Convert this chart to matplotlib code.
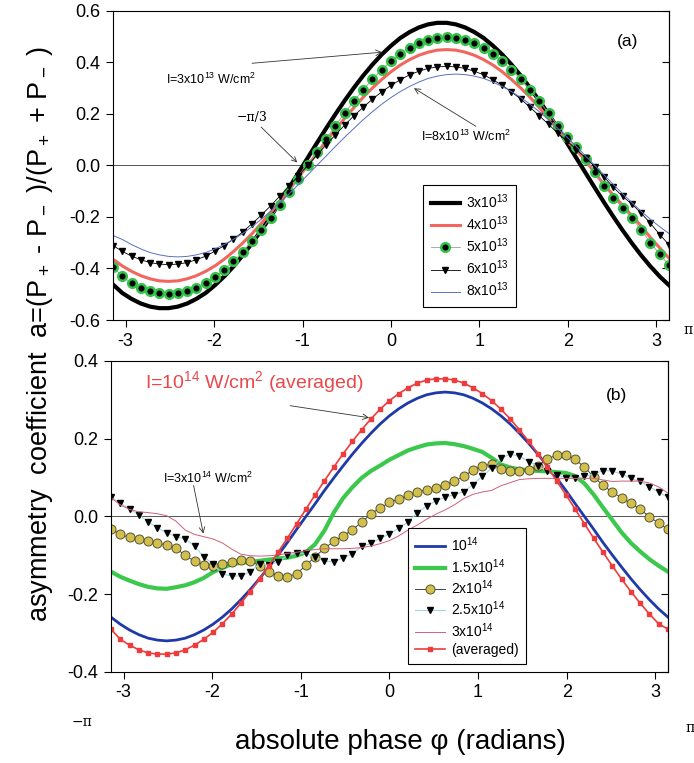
import numpy as np
import matplotlib
matplotlib.use("Agg")
import matplotlib.pyplot as plt

plt.rcParams["font.family"] = ["Liberation Sans", "DejaVu Sans"]
plt.rcParams["mathtext.fontset"] = "custom"
plt.rcParams["mathtext.rm"] = "Liberation Sans"
plt.rcParams["mathtext.it"] = "Liberation Sans:italic"
plt.rcParams["mathtext.bf"] = "Liberation Sans:bold"
plt.rcParams["axes.unicode_minus"] = False

# absolute phase grid (degrees, 6 deg steps from -180 to 180)
phase_deg = np.arange(-180, 181, 6)
phase = np.deg2rad(phase_deg)

# ---- panel (a): 3x10^13 ... 8x10^13 W/cm^2 ----
a_3e13 = [-0.462, -0.495, -0.518, -0.536, -0.548, -0.554, -0.554, -0.548, -0.536, -0.518,
          -0.495, -0.465, -0.431, -0.392, -0.349, -0.302, -0.252, -0.199, -0.144, -0.087,
          -0.029, 0.029, 0.087, 0.144, 0.199, 0.252, 0.302, 0.349, 0.392, 0.431,
          0.465, 0.495, 0.518, 0.536, 0.548, 0.554, 0.554, 0.548, 0.536, 0.518,
          0.495, 0.465, 0.431, 0.392, 0.349, 0.302, 0.252, 0.199, 0.144, 0.087,
          0.029, -0.029, -0.087, -0.144, -0.199, -0.252, -0.302, -0.349, -0.392, -0.431,
          -0.465]
a_4e13 = [-0.364, -0.390, -0.411, -0.428, -0.440, -0.448, -0.450, -0.448, -0.440, -0.428,
          -0.411, -0.390, -0.364, -0.334, -0.301, -0.265, -0.225, -0.183, -0.139, -0.094,
          -0.047, 0.000, 0.047, 0.094, 0.139, 0.183, 0.225, 0.265, 0.301, 0.334,
          0.364, 0.390, 0.411, 0.428, 0.440, 0.448, 0.450, 0.448, 0.440, 0.428,
          0.411, 0.390, 0.364, 0.334, 0.301, 0.265, 0.225, 0.183, 0.139, 0.094,
          0.060, 0.018, -0.028, -0.075, -0.115, -0.155, -0.195, -0.235, -0.280, -0.320,
          -0.360]
a_5e13 = [-0.395, -0.430, -0.457, -0.476, -0.489, -0.497, -0.500, -0.497, -0.489, -0.476,
          -0.457, -0.433, -0.405, -0.372, -0.335, -0.294, -0.250, -0.203, -0.155, -0.104,
          -0.052, 0.000, 0.052, 0.104, 0.155, 0.203, 0.250, 0.294, 0.335, 0.372,
          0.405, 0.433, 0.457, 0.476, 0.489, 0.497, 0.500, 0.497, 0.489, 0.476,
          0.457, 0.433, 0.405, 0.372, 0.335, 0.294, 0.250, 0.203, 0.155, 0.110,
          0.070, 0.025, -0.025, -0.080, -0.125, -0.165, -0.205, -0.250, -0.300, -0.345,
          -0.386]
a_6e13 = [-0.311, -0.333, -0.352, -0.366, -0.377, -0.383, -0.385, -0.383, -0.377, -0.366,
          -0.352, -0.333, -0.311, -0.286, -0.258, -0.226, -0.193, -0.157, -0.119, -0.080,
          -0.040, 0.000, 0.040, 0.080, 0.119, 0.157, 0.193, 0.226, 0.258, 0.286,
          0.311, 0.333, 0.352, 0.366, 0.377, 0.383, 0.385, 0.383, 0.377, 0.366,
          0.352, 0.333, 0.311, 0.286, 0.258, 0.226, 0.193, 0.160, 0.125, 0.095,
          0.062, 0.030, -0.005, -0.045, -0.085, -0.120, -0.150, -0.185, -0.225, -0.268,
          -0.308]
a_8e13 = [-0.272, -0.287, -0.307, -0.324, -0.338, -0.347, -0.353, -0.355, -0.353, -0.347,
          -0.338, -0.324, -0.307, -0.287, -0.264, -0.238, -0.209, -0.178, -0.144, -0.110,
          -0.074, -0.037, 0.000, 0.037, 0.074, 0.110, 0.144, 0.178, 0.209, 0.238,
          0.264, 0.287, 0.307, 0.324, 0.338, 0.347, 0.353, 0.355, 0.353, 0.347,
          0.338, 0.324, 0.307, 0.287, 0.264, 0.238, 0.209, 0.178, 0.144, 0.110,
          0.074, 0.037, 0.000, -0.037, -0.074, -0.110, -0.144, -0.178, -0.209, -0.238,
          -0.264]

# ---- panel (b): 10^14 ... 3x10^14 W/cm^2 and focal average ----
b_1e14 = [-0.259, -0.277, -0.292, -0.304, -0.313, -0.318, -0.320, -0.318, -0.313, -0.304,
          -0.292, -0.277, -0.259, -0.238, -0.214, -0.188, -0.160, -0.130, -0.099, -0.067,
          -0.033, 0.000, 0.033, 0.067, 0.099, 0.130, 0.160, 0.188, 0.214, 0.238,
          0.259, 0.277, 0.292, 0.304, 0.313, 0.318, 0.320, 0.318, 0.313, 0.304,
          0.292, 0.277, 0.259, 0.238, 0.214, 0.188, 0.160, 0.130, 0.099, 0.067,
          0.033, 0.000, -0.033, -0.067, -0.099, -0.130, -0.160, -0.188, -0.214, -0.238,
          -0.259]
b_15e14 = [-0.142, -0.155, -0.165, -0.174, -0.181, -0.185, -0.186, -0.182, -0.177, -0.169,
           -0.158, -0.143, -0.132, -0.123, -0.119, -0.117, -0.114, -0.111, -0.108, -0.106,
           -0.101, -0.092, -0.071, -0.036, 0.010, 0.047, 0.075, 0.099, 0.117, 0.131,
           0.146, 0.158, 0.170, 0.178, 0.185, 0.188, 0.189, 0.186, 0.181, 0.174,
           0.166, 0.151, 0.134, 0.126, 0.121, 0.119, 0.117, 0.116, 0.114, 0.112,
           0.104, 0.085, 0.056, 0.023, -0.009, -0.041, -0.068, -0.090, -0.110, -0.127,
           -0.142]
b_2e14 = [-0.031, -0.046, -0.054, -0.058, -0.062, -0.068, -0.074, -0.082, -0.100, -0.115,
          -0.124, -0.127, -0.122, -0.116, -0.111, -0.114, -0.127, -0.142, -0.152, -0.155,
          -0.147, -0.126, -0.103, -0.082, -0.064, -0.050, -0.034, -0.015, 0.007, 0.022,
          0.036, 0.045, 0.054, 0.063, 0.069, 0.074, 0.082, 0.091, 0.103, 0.120,
          0.130, 0.135, 0.123, 0.118, 0.117, 0.120, 0.131, 0.148, 0.158, 0.158,
          0.147, 0.127, 0.102, 0.080, 0.063, 0.048, 0.034, 0.019, -0.001, -0.017,
          -0.033]
b_25e14 = [0.050, 0.035, 0.018, 0.005, -0.014, -0.029, -0.042, -0.052, -0.058, -0.076,
           -0.104, -0.122, -0.148, -0.153, -0.153, -0.142, -0.122, -0.124, -0.118, -0.100,
           -0.094, -0.095, -0.105, -0.115, -0.117, -0.106, -0.096, -0.077, -0.069, -0.056,
           -0.045, -0.030, -0.014, 0.010, 0.027, 0.040, 0.050, 0.056, 0.064, 0.082,
           0.104, 0.124, 0.150, 0.160, 0.155, 0.141, 0.130, 0.117, 0.107, 0.100,
           0.098, 0.103, 0.109, 0.118, 0.117, 0.109, 0.098, 0.090, 0.077, 0.062,
           0.050]
b_3e14 = [0.048, 0.030, 0.018, 0.012, 0.010, 0.007, 0.002, -0.012, -0.035, -0.046,
          -0.052, -0.058, -0.068, -0.084, -0.097, -0.101, -0.102, -0.101, -0.099, -0.095,
          -0.092, -0.088, -0.085, -0.083, -0.083, -0.083, -0.082, -0.080, -0.076, -0.070,
          -0.062, -0.050, -0.035, -0.022, -0.007, 0.006, 0.017, 0.030, 0.046, 0.057,
          0.063, 0.067, 0.079, 0.087, 0.095, 0.097, 0.098, 0.098, 0.098, 0.098,
          0.098, 0.098, 0.098, 0.094, 0.090, 0.091, 0.091, 0.091, 0.086, 0.076,
          0.060]
b_avg = [-0.290, -0.316, -0.331, -0.343, -0.351, -0.354, -0.354, -0.351, -0.343, -0.331,
         -0.316, -0.298, -0.276, -0.251, -0.223, -0.193, -0.161, -0.127, -0.092, -0.056,
         -0.019, 0.019, 0.056, 0.092, 0.127, 0.161, 0.193, 0.223, 0.251, 0.276,
         0.298, 0.316, 0.331, 0.343, 0.351, 0.354, 0.354, 0.351, 0.343, 0.331,
         0.316, 0.298, 0.276, 0.251, 0.223, 0.193, 0.161, 0.127, 0.092, 0.056,
         0.019, -0.019, -0.056, -0.092, -0.127, -0.161, -0.193, -0.223, -0.251, -0.276,
         -0.290]

fig = plt.figure(figsize=(6.94, 7.63), dpi=100)
ax_a = fig.add_axes([0.1628, 0.5806, 0.8012, 0.4050])
ax_b = fig.add_axes([0.1599, 0.1193, 0.8026, 0.4076])

# panel (a)
ax_a.axhline(0, color="#555555", lw=0.7, zorder=1)
ax_a.plot(phase, a_3e13, color="black", lw=3.0, label="3x10$^{13}$")
ax_a.plot(phase, a_4e13, color="#f2665e", lw=2.2, label="4x10$^{13}$")
ax_a.plot(phase, a_5e13, color="#9aa09a", lw=0.6, marker="o", ms=6.2, mfc="black",
          mec="#35c24a", mew=1.8, label="5x10$^{13}$")
ax_a.plot(phase, a_6e13, color="black", lw=0.6, marker="v", ms=4.8, mfc="black",
          mec="black", label="6x10$^{13}$")
ax_a.plot(phase, a_8e13, color="#5a70c0", lw=0.7, label="8x10$^{13}$")

# panel (b)
ax_b.axhline(0, color="#555555", lw=0.7, zorder=1)
ax_b.plot(phase, b_1e14, color="#1f3aa8", lw=2.0, label="10$^{14}$")
ax_b.plot(phase, b_15e14, color="#3cc84c", lw=3.0, label="1.5x10$^{14}$")
ax_b.plot(phase, b_2e14, color="#444444", lw=0.7, marker="o", ms=6.5, mfc="#d2bf4c",
          mec="#555533", mew=0.7, label="2x10$^{14}$")
ax_b.plot(phase, b_25e14, color="#9fd6e0", lw=0.8, marker="v", ms=4.5, mfc="black",
          mec="black", label="2.5x10$^{14}$")
ax_b.plot(phase, b_3e14, color="#d0607a", lw=0.7, label="3x10$^{14}$")
ax_b.plot(phase, b_avg, color="#ee3b3b", lw=1.2, marker="s", ms=3.4, mfc="#ee3b3b",
          mec="#ee3b3b", label="(averaged)")

for ax, lim, step in [(ax_a, 0.6, 0.2), (ax_b, 0.4, 0.2)]:
    ax.set_xlim(-np.pi, np.pi)
    ax.set_ylim(-lim, lim)
    ticks = np.round(np.arange(-lim, lim + 0.001, step), 1)
    ax.set_yticks(ticks)
    ax.set_yticklabels([f"{t:.1f}" for t in ticks])
    ax.set_xticks([-3, -2, -1, 0, 1, 2, 3])
    ax.tick_params(axis="both", direction="out", length=5, width=0.8,
                   labelsize=13, top=False, right=False, pad=4)
    for s in ax.spines.values():
        s.set_linewidth(0.8)
    sec = ax.secondary_yaxis("right")
    sec.set_yticks(ticks)
    sec.tick_params(direction="in", length=5, width=0.8, labelright=False)

leg_a = ax_a.legend(loc="upper left", bbox_to_anchor=(0.558, 0.437), fontsize=10,
                    frameon=True, fancybox=False, edgecolor="black", framealpha=1,
                    handlelength=2.1, handletextpad=0.45, borderaxespad=0,
                    labelspacing=0.25, borderpad=0.55)
leg_a.get_frame().set_linewidth(0.8)
leg_b = ax_b.legend(loc="upper left", bbox_to_anchor=(0.533, 0.463), fontsize=10,
                    frameon=True, fancybox=False, edgecolor="black", framealpha=1,
                    handlelength=2.1, handletextpad=0.45, borderaxespad=0,
                    labelspacing=0.2, borderpad=0.55)
leg_b.get_frame().set_linewidth(0.8)

arrow = dict(arrowstyle="->", color="#333333", lw=0.6, shrinkA=0, shrinkB=0)
ax_a.text(-2.54, 0.335, "I=3x10$^{13}$ W/cm$^2$", fontsize=9, va="center", ha="left")
ax_a.annotate("", xy=(-0.10, 0.44), xytext=(-1.57, 0.397), arrowprops=arrow)
ax_a.annotate("\u2212\u03c0/3", xy=(-1.06, 0.012), xytext=(-1.40, 0.16), fontsize=9,
              family="DejaVu Serif", ha="right", va="bottom", arrowprops=arrow)
ax_a.text(0.85, 0.113, "I=8x10$^{13}$ W/cm$^2$", fontsize=9, ha="center", va="center")
ax_a.annotate("", xy=(0.26, 0.30), xytext=(0.96, 0.152), arrowprops=arrow)
ax_a.text(2.67, 0.48, "(a)", fontsize=12.5, ha="center", va="center")

ax_b.text(-2.76, 0.345, "I=10$^{14}$ W/cm$^2$ (averaged)", fontsize=14,
          color="#e8484a", ha="left", va="center")
ax_b.annotate("", xy=(-0.23, 0.254), xytext=(-1.12, 0.285), arrowprops=arrow)
ax_b.text(-2.55, 0.098, "I=3x10$^{14}$ W/cm$^2$", fontsize=9, ha="left", va="center")
ax_b.annotate("", xy=(-2.10, -0.044), xytext=(-2.21, 0.08), arrowprops=arrow)
ax_b.text(2.56, 0.31, "(b)", fontsize=12.5, ha="center", va="center")

fig.text(688 / 694, 1 - 330 / 763, "\u03c0", fontsize=10, family="DejaVu Serif",
         ha="center", va="center")
fig.text(690 / 694, 1 - 728 / 763, "\u03c0", fontsize=10, family="DejaVu Serif",
         ha="center", va="center")
fig.text(82 / 694, 1 - 722 / 763, "\u2212\u03c0", fontsize=10, family="DejaVu Serif",
         ha="center", va="center")

fig.text(400 / 694, 1 - 742 / 763, "absolute phase \u03c6 (radians)", fontsize=20,
         ha="center", va="center")
fig.text(40 / 694, 1 - 334 / 763,
         "asymmetry  coefficient  a=(P$_+$ - P$_-$ )/(P$_+$ + P$_-$ )",
         fontsize=19.5, rotation=90, ha="center", va="center")

fig.savefig("out.png", dpi=100)
